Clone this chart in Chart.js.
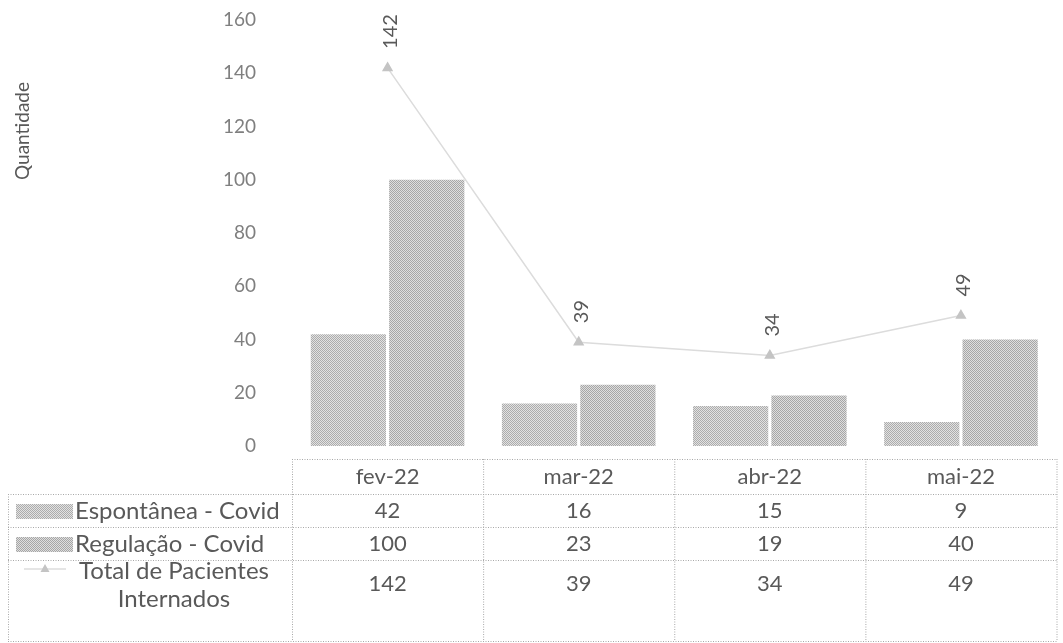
<!DOCTYPE html>
<html lang="pt">
<head>
<meta charset="utf-8">
<script src="https://cdn.jsdelivr.net/npm/chart.js@4.4.1/dist/chart.umd.min.js"></script>
<style>
    html, body { margin: 0; padding: 0; background: #fff; }
    #wrap { width: 1063px; height: 643px; position: relative; }
</style>
</head>
<body>
<div id="wrap"><canvas id="internacoesChart"></canvas></div>
<script>
// --- Data ---
const months = ['fev-22', 'mar-22', 'abr-22', 'mai-22'];
const espontanea = [42, 16, 15, 9];
const regulacao = [100, 23, 19, 40];
const totalInternados = [142, 39, 34, 49];

const seriesNames = ['Espontânea - Covid', 'Regulação - Covid', 'Total de Pacientes Internados'];
const yTicks = [0, 20, 40, 60, 80, 100, 120, 140, 160];

const FONT = 'Lato, "Open Sans", sans-serif';
const TEXT_COLOR = '#595959';

/**
 * Small checkerboard fill, gives the bars their printed halftone look.
 */
function makeDither(dark, light) {
    const c = document.createElement('canvas');
    c.width = 2; c.height = 2;
    const g = c.getContext('2d');
    g.fillStyle = light; g.fillRect(0, 0, 2, 2);
    g.fillStyle = dark; g.fillRect(0, 0, 1, 1); g.fillRect(1, 1, 1, 1);
    return g.createPattern(c, 'repeat');
}

const espFill = makeDither('#acacac', '#e2e2e2');
const regFill = makeDither('#a6a6a6', '#dedede');

// Rotated value labels; the start of the text sits just above each marker
const lineLabels = {
    id: 'lineLabels',
    afterDatasetsDraw(chart) {
        const meta = chart.getDatasetMeta(2);
        const ctx = chart.ctx;
        ctx.save();
        ctx.fillStyle = TEXT_COLOR;
        ctx.font = '20px ' + FONT;
        ctx.textAlign = 'left';
        ctx.textBaseline = 'middle';
        meta.data.forEach((pt, i) => {
            ctx.save();
            ctx.translate(pt.x + 3, pt.y - 19);
            ctx.rotate(-Math.PI / 2);
            ctx.fillText(String(totalInternados[i]), 0, 0);
            ctx.restore();
        });
        ctx.restore();
    }
};

// Y axis title, placed near the top like the spreadsheet layout
const axisTitle = {
    id: 'axisTitle',
    afterDraw(chart) {
        const ctx = chart.ctx;
        ctx.save();
        ctx.fillStyle = TEXT_COLOR;
        ctx.font = '19px ' + FONT;
        ctx.textAlign = 'center';
        ctx.textBaseline = 'middle';
        ctx.translate(23, 131);
        ctx.rotate(-Math.PI / 2);
        ctx.fillText('Quantidade', 0, 0);
        ctx.restore();
    }
};

// Data table under the plot, columns aligned with the x scale
const dataTable = {
    id: 'dataTable',
    afterDraw(chart) {
        const ctx = chart.ctx;
        const xs = chart.scales.x;
        const area = chart.chartArea;
        const colW = (area.right - area.left) / months.length;
        const left = 8;
        const rowTop = [459, 494, 527, 560];
        const bottom = 641;

        ctx.save();
        ctx.strokeStyle = '#a8a8a8';
        ctx.lineWidth = 1;
        ctx.setLineDash([1, 1.5]);

        const hline = (x1, x2, y) => {
            ctx.beginPath(); ctx.moveTo(x1, y + 0.5); ctx.lineTo(x2, y + 0.5); ctx.stroke();
        };
        const vline = (x, y1, y2) => {
            ctx.beginPath(); ctx.moveTo(x + 0.5, y1); ctx.lineTo(x + 0.5, y2); ctx.stroke();
        };

        hline(area.left, area.right, rowTop[0]);
        for (let r = 1; r < rowTop.length; r++) hline(left, area.right, rowTop[r]);
        hline(left, area.right, bottom);
        vline(left, rowTop[1], bottom);
        for (let c = 0; c <= months.length; c++) {
            vline(area.left + c * colW, rowTop[0], bottom);
        }

        ctx.setLineDash([]);
        ctx.fillStyle = TEXT_COLOR;
        ctx.font = '22px ' + FONT;
        ctx.textAlign = 'center';
        ctx.textBaseline = 'middle';

        const rows = [espontanea, regulacao, totalInternados];
        const rowMid = [511, 544, 584];
        months.forEach((m, i) => {
            const cx = xs.getPixelForValue(i);
            ctx.fillText(m, cx, 477);
            rows.forEach((vals, r) => ctx.fillText(String(vals[i]), cx, rowMid[r]));
        });

        // legend keys inside the first column
        const ds = chart.data.datasets;
        ctx.fillStyle = ds[0].backgroundColor;
        ctx.fillRect(16, 504, 57, 15);
        ctx.fillStyle = ds[1].backgroundColor;
        ctx.fillRect(16, 537, 57, 15);

        ctx.strokeStyle = ds[2].borderColor;
        ctx.lineWidth = 1.5;
        ctx.beginPath(); ctx.moveTo(24, 569); ctx.lineTo(66, 569); ctx.stroke();
        ctx.fillStyle = ds[2].pointBackgroundColor;
        ctx.beginPath();
        ctx.moveTo(45, 564); ctx.lineTo(49.5, 572); ctx.lineTo(40.5, 572); ctx.closePath();
        ctx.fill();

        ctx.fillStyle = TEXT_COLOR;
        ctx.font = '24px ' + FONT;
        ctx.textAlign = 'left';
        ctx.fillText(seriesNames[0], 75, 511);
        ctx.fillText(seriesNames[1], 75, 544);
        ctx.textAlign = 'center';
        ctx.fillText('Total de Pacientes', 174, 571);
        ctx.fillText('Internados', 174, 599);
        ctx.restore();
    }
};

const ctx = document.getElementById('internacoesChart').getContext('2d');
new Chart(ctx, {
    data: {
        labels: months,
        datasets: [
            {
                type: 'bar',
                label: seriesNames[0],
                data: espontanea,
                backgroundColor: espFill,
                categoryPercentage: 0.82,
                barPercentage: 0.96,
                order: 2
            },
            {
                type: 'bar',
                label: seriesNames[1],
                data: regulacao,
                backgroundColor: regFill,
                categoryPercentage: 0.82,
                barPercentage: 0.96,
                order: 2
            },
            {
                type: 'line',
                label: seriesNames[2],
                data: totalInternados,
                borderColor: '#dcdcdc',
                borderWidth: 1.5,
                pointStyle: 'triangle',
                pointRadius: 5,
                pointBackgroundColor: '#c4c4c4',
                pointBorderColor: '#c4c4c4',
                tension: 0,
                order: 1
            }
        ]
    },
    options: {
        responsive: true,
        maintainAspectRatio: false,
        animation: false,
        layout: { padding: { top: 20, right: -6, bottom: 197, left: 0 } },
        plugins: {
            legend: { display: false },
            tooltip: { enabled: false }
        },
        scales: {
            x: {
                type: 'category',
                display: false
            },
            y: {
                min: 0,
                max: 160,
                afterFit(scale) {
                    scale.width = 292;
                    scale.paddingTop = 0;
                    scale.paddingBottom = 0;
                },
                afterBuildTicks(scale) { scale.ticks = yTicks.map(v => ({ value: v })); },
                grid: { display: false },
                border: { display: false },
                ticks: {
                    color: '#7f7f7f',
                    padding: 28,
                    font: { family: FONT, size: 19 }
                }
            }
        }
    },
    plugins: [lineLabels, axisTitle, dataTable]
});
</script>
</body>
</html>
